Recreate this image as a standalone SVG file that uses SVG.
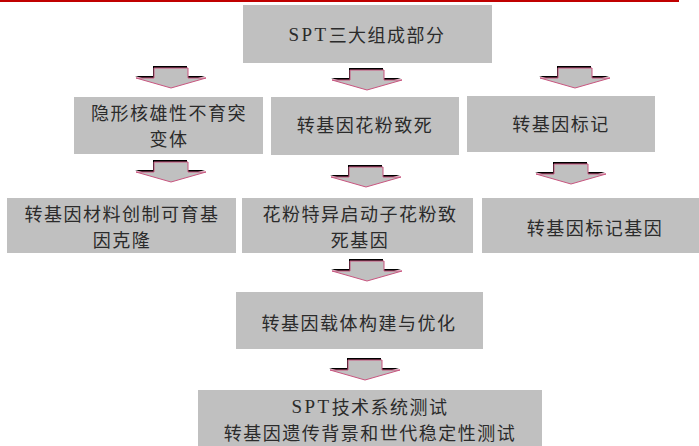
<svg xmlns="http://www.w3.org/2000/svg" xmlns:xlink="http://www.w3.org/1999/xlink" width="699" height="446" viewBox="0 0 699 446">
<style>
.box{fill:#c0c0c0}
.t{font-family:"Noto Sans CJK SC","Liberation Serif",sans-serif;font-size:18px;letter-spacing:1.5px;fill:#2b2b2b;text-anchor:middle;dominant-baseline:central}
.lat{font-family:"Liberation Serif","Noto Sans CJK SC",serif;font-size:19px;letter-spacing:2.5px}
.sh{fill:#000}
.ar{fill:#c0c0c0;stroke:#c8557f;stroke-width:1}
</style>
<defs>
<g id="arrow">
<polygon class="sh" points="-18,-2 16,-2 16,8 34,8 -1,18 -36,8 -18,8"/>
<polygon class="ar" points="-17,0 17,0 17,10 35,10 0,20 -35,10 -17,10"/>
</g>
</defs>
<rect x="0" y="0" width="679" height="2" fill="#c00000"/>
<g id="connectors">
<use xlink:href="#arrow" transform="translate(171,68)"/>
<use xlink:href="#arrow" transform="translate(367,70)"/>
<use xlink:href="#arrow" transform="translate(575,68)"/>
<use xlink:href="#arrow" transform="translate(171,162)"/>
<use xlink:href="#arrow" transform="translate(366,167)"/>
<use xlink:href="#arrow" transform="translate(571,164)"/>
<use xlink:href="#arrow" transform="translate(367,261)"/>
<use xlink:href="#arrow" transform="translate(365,360)"/>
</g>
<g id="n-top"><rect class="box" x="243" y="5" width="249" height="58"/><text class="t" x="367" y="34"><tspan class="lat">SPT</tspan>三大组成部分</text></g>
<g id="n-a"><rect class="box" x="74" y="97" width="189" height="57"/><text class="t" x="169" y="112">隐形核雄性不育突</text><text class="t" x="169" y="138">变体</text></g>
<g id="n-b"><rect class="box" x="271" y="97" width="188" height="58"/><text class="t" x="365" y="124">转基因花粉致死</text></g>
<g id="n-c"><rect class="box" x="467" y="96" width="188" height="56"/><text class="t" x="561" y="123">转基因标记</text></g>
<g id="n-d"><rect class="box" x="7" y="198" width="229" height="55"/><text class="t" x="122" y="213">转基因材料创制可育基</text><text class="t" x="122" y="239">因克隆</text></g>
<g id="n-e"><rect class="box" x="242" y="198" width="231" height="55"/><text class="t" x="360" y="213">花粉特异启动子花粉致</text><text class="t" x="360" y="239">死基因</text></g>
<g id="n-f"><rect class="box" x="482" y="198" width="217" height="55"/><text class="t" x="595" y="227">转基因标记基因</text></g>
<g id="n-g"><rect class="box" x="236" y="292" width="247" height="57"/><text class="t" x="359" y="322">转基因载体构建与优化</text></g>
<g id="n-h"><rect class="box" x="198" y="390" width="344" height="56"/><text class="t" x="370" y="406"><tspan class="lat">SPT</tspan>技术系统测试</text><text class="t" x="370" y="432">转基因遗传背景和世代稳定性测试</text></g>
</svg>
